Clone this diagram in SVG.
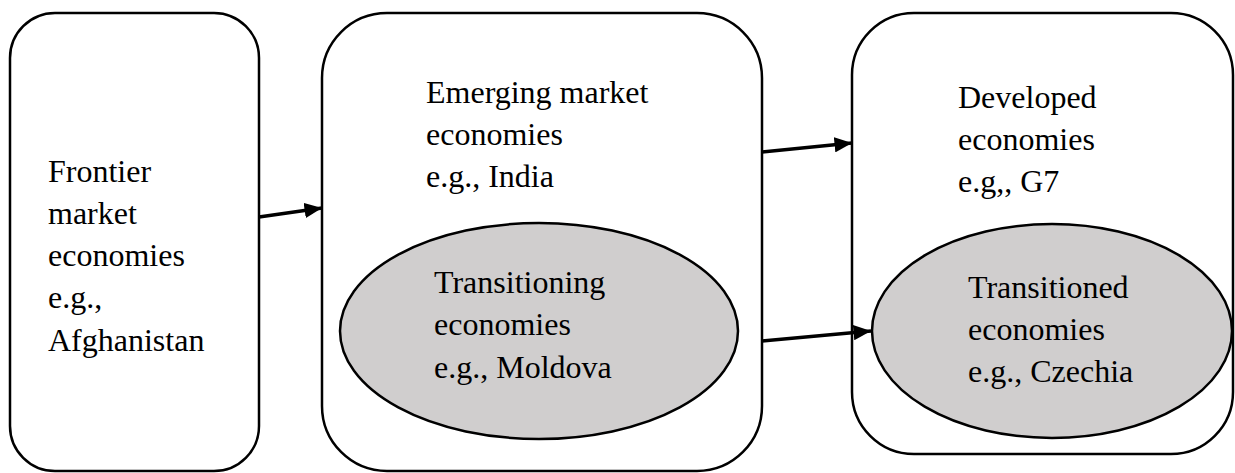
<svg xmlns="http://www.w3.org/2000/svg" width="1235" height="473" viewBox="0 0 1235 473">
<style>
.box{fill:#fff;stroke:#000;stroke-width:2.5}
.ell{fill:#d0cece;stroke:#000;stroke-width:2.5}
.c{stroke:#000;stroke-width:3.5;fill:none;marker-end:url(#ah)}
</style>
<defs>
<marker id="ah" markerWidth="5" markerHeight="4.4" refX="5" refY="2.2" orient="auto" markerUnits="strokeWidth">
<path d="M0,0 L5,2.2 L0,4.4 Z" fill="#000"/>
</marker>
</defs>
<g font-family="Liberation Serif, Times New Roman, DejaVu Serif, serif" font-size="32" fill="#000">
<g id="frontier">
<rect class="box" x="10" y="13" width="249" height="458" rx="45" ry="45"/>
<text x="48" y="182">Frontier</text>
<text x="48" y="224">market</text>
<text x="48" y="266">economies</text>
<text x="48" y="308">e.g.,</text>
<text x="48" y="351">Afghanistan</text>
</g>
<g id="emerging">
<rect class="box" x="322" y="13" width="440" height="458" rx="65" ry="65"/>
<text x="426" y="103">Emerging market</text>
<text x="426" y="145">economies</text>
<text x="426" y="187">e.g., India</text>
</g>
<g id="transitioning">
<ellipse class="ell" cx="539" cy="331" rx="199" ry="108"/>
<text x="434" y="293">Transitioning</text>
<text x="434" y="335">economies</text>
<text x="434" y="378">e.g., Moldova</text>
</g>
<g id="developed">
<rect class="box" x="852" y="13" width="381" height="441" rx="62" ry="62"/>
<text x="958" y="108">Developed</text>
<text x="958" y="150">economies</text>
<text x="958" y="192">e.g,, G7</text>
</g>
<g id="transitioned">
<ellipse class="ell" cx="1052" cy="331" rx="180" ry="107"/>
<text x="968" y="298">Transitioned</text>
<text x="968" y="340">economies</text>
<text x="968" y="382">e.g., Czechia</text>
</g>
</g>
<g id="connectors">
<line class="c" x1="259" y1="217" x2="322" y2="208"/>
<line class="c" x1="762" y1="152" x2="852" y2="143"/>
<line class="c" x1="762" y1="341" x2="871" y2="331"/>
</g>
</svg>
